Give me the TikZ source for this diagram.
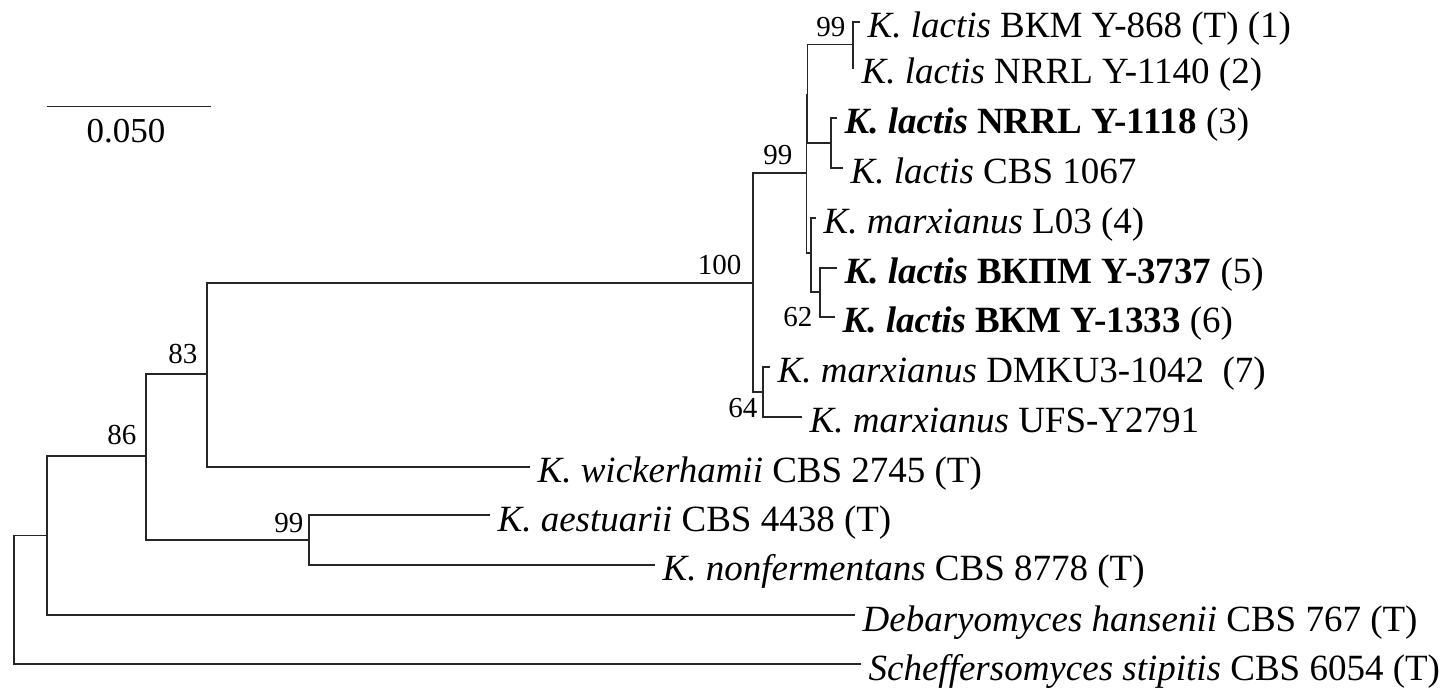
\documentclass[tikz,border=0pt]{standalone}
\usepackage{fontspec}
\setmainfont{Liberation Serif}
\usetikzlibrary{calc,positioning}
\colorlet{branchcol}{black!85}
\newcommand{\taxon}[4]{% tip coordinate, x, y, label
  \coordinate (#1) at (#2,#3);
  \node[taxlab] (#1lab) at ($(#1)+(7,16)$) {#4};}
\newcommand{\boot}[4]{% name, x, y (baseline right end), value
  \node[bootlab] (#1) at (#2,#3) {#4};}

\begin{document}
\begin{tikzpicture}[x=0.5pt,y=-0.5pt,line width=0.6pt,
  branch/.style={draw=branchcol},
  taxlab/.style={anchor=base west,inner sep=0pt,font=\fontsize{18.5}{20}\selectfont},
  bootlab/.style={anchor=base east,inner sep=0pt,font=\fontsize{14.5}{16}\selectfont}]
\useasboundingbox (0,0) rectangle (1454,688);
% internal nodes of the tree
\coordinate (root) at (14,600);
\coordinate (nA) at (47,535.7);
\coordinate (nB) at (146,456);
\coordinate (nD) at (207,374);
\coordinate (nC) at (309,540);
\coordinate (nE) at (753,283);
\coordinate (nFp) at (806.5,173);
\coordinate (nF) at (807.7,95);
\coordinate (nH) at (853,44.8);
\coordinate (nI) at (831,143);
\coordinate (nJ) at (811,253);
\coordinate (nK) at (820,292);
\coordinate (nG) at (763,392);
% tips and names
\taxon{t1}{860}{22}{\textit{K. lactis} ВКМ Y-868 (T) (1)}
\taxon{t2}{854}{68}{\textit{K. lactis} NRRL Y-1140 (2)}
\taxon{t3}{837}{118}{\textbf{\textit{K. lactis} NRRL Y-1118} (3)}
\taxon{t4}{843}{168}{\textit{K. lactis} CBS 1067}
\taxon{t5}{816}{218}{\textit{K. marxianus} L03 (4)}
\taxon{t6}{837}{268}{\textbf{\textit{K. lactis} ВКПМ Y-3737} (5)}
\taxon{t7}{835}{317}{\textbf{\textit{K. lactis} ВКМ Y-1333} (6)}
\taxon{t8}{770}{367}{\textit{K. marxianus} DMKU3-1042\ \ (7)}
\taxon{t9}{802}{417}{\textit{K. marxianus} UFS-Y2791}
\taxon{t10}{530}{467}{\textit{K. wickerhamii} CBS 2745 (T)}
\taxon{t11}{490}{515}{\textit{K. aestuarii} CBS 4438 (T)}
\taxon{t12}{655}{565}{\textit{K. nonfermentans} CBS 8778 (T)}
\taxon{t13}{855}{615}{\textit{Debaryomyces hansenii} CBS 767 (T)}
\taxon{t14}{861}{664}{\textit{Scheffersomyces stipitis} CBS 6054 (T)}
% branches
\draw[branch] (root) |- (nA); \draw[branch] (root) |- (t14);
\draw[branch] (nA) |- (nB); \draw[branch] (nA) |- (t13);
\draw[branch] (nB) |- (nD); \draw[branch] (nB) |- (nC);
\draw[branch] (nC) |- (t11); \draw[branch] (nC) |- (t12);
\draw[branch] (nD) |- (nE); \draw[branch] (nD) |- (t10);
\draw[branch] (nE) |- (nFp); \draw[branch] (nE) |- (nG);
\draw[branch] (nFp) |- (nF); \draw[branch] (nFp) |- (nJ);
\draw[branch] (nF) |- (nH); \draw[branch] (nF) |- (nI);
\draw[branch] (nH) |- (t1); \draw[branch] (nH) |- (t2);
\draw[branch] (nI) |- (t3); \draw[branch] (nI) |- (t4);
\draw[branch] (nJ) |- (t5); \draw[branch] (nJ) |- (nK);
\draw[branch] (nK) |- (t6); \draw[branch] (nK) |- (t7);
\draw[branch] (nG) |- (t8); \draw[branch] (nG) |- (t9);
% bootstrap values
\boot{bH}{846}{37}{99}
\boot{bFp}{793}{165}{99}
\boot{bE}{742}{275}{100}
\boot{bG}{758}{418}{64}
\boot{bK}{813}{327}{62}
\boot{bD}{198}{364}{83}
\boot{bB}{137}{445}{86}
\boot{bC}{304}{532}{99}
% scale bar
\coordinate (sbl) at (46.7,106.7);
\coordinate (sbr) at (210.7,106.7);
\draw[branch] (sbl) -- (sbr);
\node[font=\fontsize{17.5}{19}\selectfont,inner sep=0pt] (sblab) at (126,131) {0.050};
\end{tikzpicture}
\end{document}
